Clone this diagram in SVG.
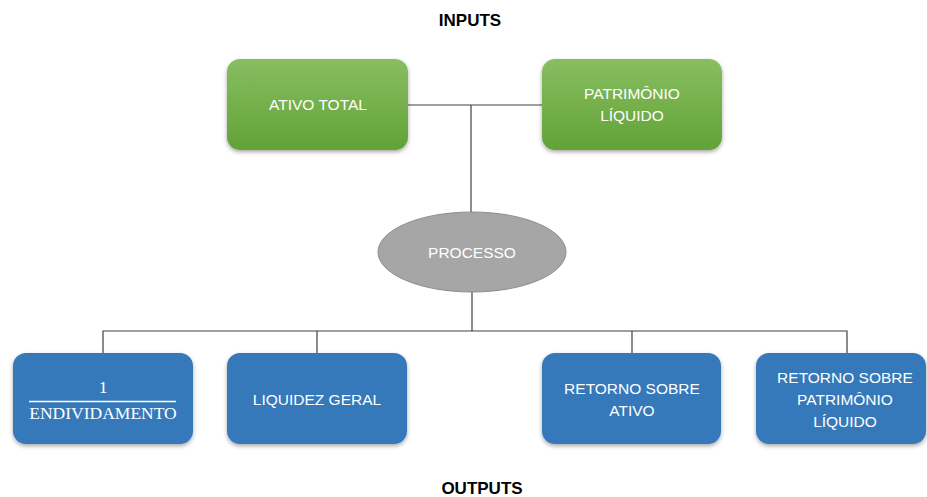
<svg xmlns="http://www.w3.org/2000/svg" width="927" height="497" viewBox="0 0 927 497">
<defs>
<linearGradient id="g" x1="0" y1="0" x2="0" y2="1">
<stop offset="0" stop-color="#88be61"/>
<stop offset="1" stop-color="#62a237"/>
</linearGradient>
<filter id="sh" x="-10%" y="-10%" width="130%" height="130%">
<feGaussianBlur in="SourceAlpha" stdDeviation="2"/>
<feOffset dx="0" dy="2" result="b"/>
<feComponentTransfer><feFuncA type="linear" slope="0.35"/></feComponentTransfer>
<feMerge><feMergeNode/><feMergeNode in="SourceGraphic"/></feMerge>
</filter>
</defs>
<style>
.t{font-family:"Liberation Sans",Arial,sans-serif;font-size:15.5px;fill:#ffffff;text-anchor:middle}
.h{font-family:"Liberation Sans",Arial,sans-serif;font-size:17px;font-weight:bold;fill:#000000;text-anchor:middle}
.green{fill:url(#g);filter:url(#sh)}
.blue{fill:#3679ba;filter:url(#sh)}
.c{stroke:#404040;stroke-width:1.2;fill:none}
.f{font-family:"Liberation Serif","Times New Roman",serif;font-size:17.5px;fill:#ffffff;text-anchor:middle}
</style>
<rect width="927" height="497" fill="#ffffff"/>
<text class="h" x="470" y="26">INPUTS</text>
<text class="h" x="482" y="494">OUTPUTS</text>
<g id="connectors">
<path class="c" d="M408 105 H542" stroke="#808080"/>
<path class="c" d="M471 105 V213"/>
<path class="c" d="M472 292 V331"/>
<path class="c" d="M103 353 V331 H847 V353"/>
<path class="c" d="M317 331 V353"/>
<path class="c" d="M632 331 V353"/>
</g>
<g id="ativo-total">
<rect class="green" x="227" y="59" width="181" height="91" rx="13"/>
<text class="t" x="318" y="110">ATIVO TOTAL</text>
</g>
<g id="patrimonio-liquido">
<rect class="green" x="542" y="59" width="180" height="91" rx="13"/>
<text class="t" x="632" y="99">PATRIMÔNIO</text>
<text class="t" x="632" y="121">LÍQUIDO</text>
</g>
<g id="processo">
<ellipse cx="472" cy="252" rx="94" ry="40" fill="#a6a6a6" stroke="#8e8e8e" stroke-width="1"/>
<text class="t" x="472" y="258">PROCESSO</text>
</g>
<g id="endividamento">
<rect class="blue" x="13" y="353" width="180" height="91" rx="13"/>
<text class="f" x="103" y="393">1</text>
<line x1="29" y1="401.5" x2="176" y2="401.5" stroke="#ffffff" stroke-width="1.3"/>
<text class="f" x="103" y="419">ENDIVIDAMENTO</text>
</g>
<g id="liquidez-geral">
<rect class="blue" x="227" y="353" width="180" height="91" rx="13"/>
<text class="t" x="317" y="405">LIQUIDEZ GERAL</text>
</g>
<g id="retorno-ativo">
<rect class="blue" x="542" y="353" width="179" height="91" rx="13"/>
<text class="t" x="632" y="394">RETORNO SOBRE</text>
<text class="t" x="632" y="416">ATIVO</text>
</g>
<g id="retorno-pl">
<rect class="blue" x="756" y="353" width="170" height="91" rx="13"/>
<text class="t" x="845" y="383">RETORNO SOBRE</text>
<text class="t" x="845" y="405">PATRIMÔNIO</text>
<text class="t" x="845" y="427">LÍQUIDO</text>
</g>
</svg>
